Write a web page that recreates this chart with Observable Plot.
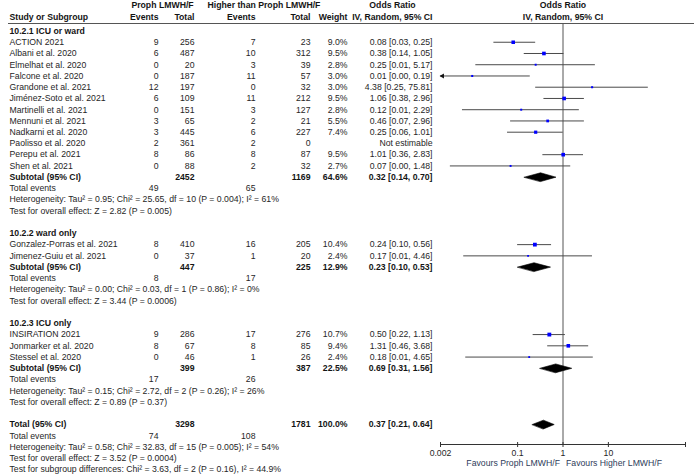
<!DOCTYPE html>
<html>
<head>
<meta charset="utf-8">
<script src="https://cdn.jsdelivr.net/npm/d3@7"></script>
<script src="https://cdn.jsdelivr.net/npm/@observablehq/plot@0.6"></script>
<style>
  html, body { margin: 0; padding: 0; background: #fff; }
  #chart svg { display: block; }
</style>
</head>
<body>
<div id="chart"></div>
<script>
// ---------- data ----------
const groupTitles = ["10.2.1 ICU or ward", "10.2.2 ward only", "10.2.3 ICU only"];
const studies = [
  "ACTION 2021", "Albani et al. 2020", "Elmelhat et al. 2020", "Falcone et al. 2020",
  "Grandone et al. 2021", "Jiménez-Soto et al. 2021", "Martinelli et al. 2021",
  "Mennuni et al. 2021", "Nadkarni et al. 2020", "Paolisso et al. 2020",
  "Perepu et al. 2021", "Shen et al. 2021",
  "Gonzalez-Porras et al. 2021", "Jimenez-Guiu et al. 2021",
  "INSIRATION 2021", "Jonmarker et al. 2020", "Stessel et al. 2020"
];
const studyGroup   = [0,0,0,0,0,0,0,0,0,0,0,0,1,1,2,2,2];
const eventsProph  = [9,6,0,0,12,6,0,3,3,2,8,0,8,0,9,8,0];
const totalProph   = [256,487,20,187,197,109,151,65,445,361,86,88,410,37,286,67,46];
const eventsHigher = [7,10,3,11,0,11,3,2,6,2,8,2,16,1,17,8,1];
const totalHigher  = [23,312,39,57,32,212,127,21,227,0,87,32,205,20,276,85,26];
const weights      = [9.0,9.5,2.8,3.0,3.0,9.5,2.8,5.5,7.4,null,9.5,2.7,10.4,2.4,10.7,9.4,2.4];
const orEst        = [0.08,0.38,0.25,0.01,4.38,1.06,0.12,0.46,0.25,null,1.01,0.07,0.24,0.17,0.50,1.31,0.18];
const ciLow        = [0.03,0.14,0.012,0.0005,0.25,0.38,0.0061,0.07,0.06,null,0.36,0.0033,0.10,0.0065,0.22,0.46,0.0072];
const ciHigh       = [0.25,1.05,5.17,0.19,75.81,2.96,2.29,2.96,1.01,null,2.83,1.48,0.56,4.46,1.13,3.68,4.65];

const subTotalProph   = [2452, 447, 399];
const subTotalHigher  = [1169, 225, 387];
const subWeight       = [64.6, 12.9, 22.5];
const subOR           = [0.32, 0.23, 0.69];
const subLow          = [0.14, 0.10, 0.31];
const subHigh         = [0.70, 0.53, 1.56];
const subEventsProph  = [49, 8, 17];
const subEventsHigher = [65, 17, 26];
const subHeterogeneity = [
  "Heterogeneity: Tau² = 0.95; Chi² = 25.65, df = 10 (P = 0.004); I² = 61%",
  "Heterogeneity: Tau² = 0.00; Chi² = 0.03, df = 1 (P = 0.86); I² = 0%",
  "Heterogeneity: Tau² = 0.15; Chi² = 2.72, df = 2 (P = 0.26); I² = 26%"
];
const subOverallTest = [
  "Test for overall effect: Z = 2.82 (P = 0.005)",
  "Test for overall effect: Z = 3.44 (P = 0.0006)",
  "Test for overall effect: Z = 0.89 (P = 0.37)"
];
const overallTotals = [3298, 1781];
const overallWeight = 100.0;
const overallOR = [0.37, 0.21, 0.64];
const overallEvents = [74, 108];
const overallTexts = [
  "Heterogeneity: Tau² = 0.58; Chi² = 32.83, df = 15 (P = 0.005); I² = 54%",
  "Test for overall effect: Z = 3.52 (P = 0.0004)",
  "Test for subgroup differences: Chi² = 3.63, df = 2 (P = 0.16), I² = 44.9%"
];
const axisTicks = [0.002, 0.1, 1, 10, 500];
const favoursLabels = ["Favours Proph LMWH/F", "Favours Higher LMWH/F"];

// ---------- build table rows ----------
const f2 = v => v.toFixed(2);
const ciText = (o, l, h) => `${f2(o)} [${f2(l)}, ${f2(h)}]`;
const rows = [];
const diamonds = [];
let r = 0;
for (let g = 0; g < groupTitles.length; g++) {
  rows.push({r: r++, bold: true, name: groupTitles[g]});
  studies.forEach((s, i) => {
    if (studyGroup[i] !== g) return;
    rows.push({
      r: r++, bold: false, study: true, name: s,
      e1: String(eventsProph[i]), n1: String(totalProph[i]),
      e2: String(eventsHigher[i]), n2: String(totalHigher[i]),
      w: weights[i] == null ? null : weights[i].toFixed(1) + "%",
      wv: weights[i],
      or: orEst[i], lo: ciLow[i], hi: ciHigh[i],
      ci: orEst[i] == null ? "Not estimable" : ciText(orEst[i], ciLow[i], ciHigh[i])
    });
  });
  diamonds.push({r, or: subOR[g], lo: subLow[g], hi: subHigh[g]});
  rows.push({r: r++, bold: true, name: "Subtotal (95% CI)",
    n1: String(subTotalProph[g]), n2: String(subTotalHigher[g]),
    w: subWeight[g].toFixed(1) + "%", ci: ciText(subOR[g], subLow[g], subHigh[g])});
  rows.push({r: r++, bold: false, name: "Total events",
    e1: String(subEventsProph[g]), e2: String(subEventsHigher[g])});
  rows.push({r: r++, bold: false, name: subHeterogeneity[g]});
  rows.push({r: r++, bold: false, name: subOverallTest[g]});
  r++; // blank row
}
diamonds.push({r, or: overallOR[0], lo: overallOR[1], hi: overallOR[2]});
rows.push({r: r++, bold: true, name: "Total (95% CI)",
  n1: String(overallTotals[0]), n2: String(overallTotals[1]),
  w: overallWeight.toFixed(1) + "%", ci: ciText(overallOR[0], overallOR[1], overallOR[2])});
rows.push({r: r++, bold: false, name: "Total events",
  e1: String(overallEvents[0]), e2: String(overallEvents[1])});
overallTexts.forEach(t => rows.push({r: r++, bold: false, name: t}));
const lastRow = r - 1;

const studyRows = rows.filter(d => d.study && d.or != null);
const xMin = axisTicks[0];
const diamondPts = [];
diamonds.forEach((d, k) => {
  diamondPts.push({k, x: d.lo, y: d.r}, {k, x: d.or, y: d.r - 0.39},
                  {k, x: d.hi, y: d.r}, {k, x: d.or, y: d.r + 0.39});
});

// ---------- layout ----------
const W = 695, H = 476, ML = 440, MR = 10, MT = 23, MB = 32;
const FS = 8.7;
const TXT = "#262626", BOLD = "#141414";

// columns: [field, dx from frame-left, anchor]
const columns = [
  ["name", 9 - ML, "start"],
  ["e1", 158 - ML, "end"],
  ["n1", 194 - ML, "end"],
  ["e2", 255 - ML, "end"],
  ["n2", 310 - ML, "end"],
  ["w", 347 - ML, "end"],
  ["ci", 432 - ML, "end"]
];
const colMarks = [];
for (const [field, dx, anchor] of columns) {
  for (const bold of [false, true]) {
    const data = rows.filter(d => d.bold === bold && d[field] != null);
    colMarks.push(Plot.text(data, {
      y: "r", text: field, frameAnchor: "left", dx, textAnchor: anchor,
      lineAnchor: "middle", fontSize: FS, fontWeight: bold ? "bold" : "normal",
      fill: bold ? BOLD : TXT
    }));
  }
}
const headers = [
  {t: "Proph LMWH/F", x: 162, row: 0, a: "middle"},
  {t: "Higher than Proph LMWH/F", x: 207, row: 0, a: "start"},
  {t: "Odds Ratio", x: 392, row: 0, a: "middle"},
  {t: "Study or Subgroup", x: 9, row: 1, a: "start"},
  {t: "Events", x: 158, row: 1, a: "end"},
  {t: "Total", x: 194, row: 1, a: "end"},
  {t: "Events", x: 255, row: 1, a: "end"},
  {t: "Total", x: 310, row: 1, a: "end"},
  {t: "Weight", x: 347, row: 1, a: "end"},
  {t: "IV, Random, 95% CI", x: 432, row: 1, a: "end"}
];
const headerMarks = headers.map(h => Plot.text([h.t], {
  frameAnchor: "top-left", dx: h.x - ML, dy: h.row === 0 ? -18 : -6,
  textAnchor: h.a, lineAnchor: "middle", fontSize: FS, fontWeight: "bold", fill: BOLD
}));

const chart = Plot.plot({
  width: W, height: H,
  marginLeft: ML, marginRight: MR, marginTop: MT, marginBottom: MB,
  style: {fontFamily: "'Liberation Sans', Arial, sans-serif", fontSize: FS + "px", background: "#fff", overflow: "visible"},
  x: {type: "log", domain: [axisTicks[0], axisTicks[axisTicks.length - 1]], label: null},
  y: {domain: [0, lastRow], range: [30.5, 469], axis: null},
  marks: [
    // header separator
    Plot.frame({anchor: "top", insetLeft: -(ML - 8), insetRight: -(MR - 2), stroke: "#555"}),
    ...headerMarks,
    Plot.text(["Odds Ratio"], {x: () => 1, frameAnchor: "top", dy: -18, lineAnchor: "middle",
      fontSize: FS, fontWeight: "bold", fill: BOLD}),
    Plot.text(["IV, Random, 95% CI"], {x: () => 1, frameAnchor: "top", dy: -6, lineAnchor: "middle",
      fontSize: FS, fontWeight: "bold", fill: BOLD}),
    ...colMarks,
    // line of no effect
    Plot.ruleX([1], {stroke: "#555"}),
    // axis
    Plot.frame({anchor: "bottom", stroke: "#333"}),
    Plot.axisX({anchor: "bottom", ticks: axisTicks, tickFormat: d => String(d), tickSize: 3,
      tickPadding: 2, fontSize: FS, stroke: "#333", fill: TXT}),
    Plot.axisX({anchor: "bottom", ticks: axisTicks, tickFormat: () => "", tickSize: -2, stroke: "#333"}),
    Plot.text([favoursLabels[0]], {x: () => 1, frameAnchor: "bottom", dy: 19, dx: -3,
      textAnchor: "end", lineAnchor: "middle", fontSize: FS, fill: "#2e3c5a"}),
    Plot.text([favoursLabels[1]], {x: () => 1, frameAnchor: "bottom", dy: 19, dx: 3,
      textAnchor: "start", lineAnchor: "middle", fontSize: FS, fill: "#2e3c5a"}),
    // confidence intervals
    Plot.ruleY(studyRows, {y: "r", x1: d => Math.max(d.lo, xMin), x2: "hi", stroke: "#4a4a4a", strokeWidth: 1}),
    Plot.dot(studyRows.filter(d => d.lo < xMin), {x: () => xMin, y: "r", symbol: "triangle2",
      rotate: -90, r: 2.4, dx: 2, fill: "#111"}),
    // study squares
    Plot.dot(studyRows, {x: "or", y: "r", r: "wv", symbol: "square", fill: "#0000ff", stroke: "none"}),
    // pooled diamonds
    Plot.line(diamondPts, {x: "x", y: "y", z: "k", curve: "linear-closed", fill: "#000", stroke: "#000", strokeWidth: 0.6})
  ],
  r: {type: "sqrt", domain: [0, 11], range: [0, 2.2]}
});
document.getElementById("chart").appendChild(chart);
</script>
</body>
</html>
